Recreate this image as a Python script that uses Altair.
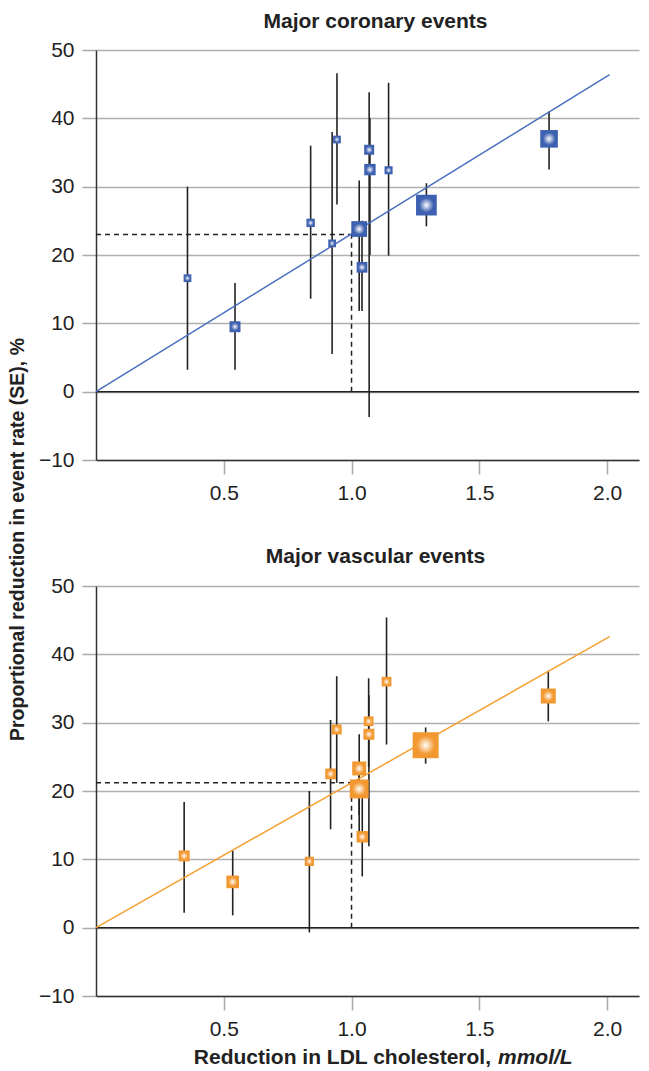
import altair as alt
import pandas as pd

# ---------------- data ----------------
# Major coronary events
cor_ldl = [0.358, 0.544, 0.840, 0.924, 0.943, 1.030, 1.041, 1.069, 1.072, 1.145, 1.293, 1.773]
cor_red = [16.6, 9.5, 24.7, 21.7, 36.9, 23.8, 18.2, 35.4, 32.5, 32.4, 27.3, 37.0]
cor_hi = [30.0, 15.9, 36.0, 38.0, 46.6, 30.9, 25.0, 43.8, 40.0, 45.2, 30.5, 41.0]
cor_lo = [3.2, 3.2, 13.6, 5.5, 27.4, 11.8, 11.8, -3.7, 20.0, 19.9, 24.2, 32.5]
cor_wt = [0.6, 1.2, 0.7, 0.6, 0.6, 2.5, 1.15, 1.0, 1.3, 0.65, 4.3, 3.1]

# Major vascular events
vas_ldl = [0.345, 0.535, 0.835, 0.918, 0.942, 1.030, 1.030, 1.042, 1.067, 1.068, 1.137, 1.290, 1.770]
vas_red = [10.5, 6.7, 9.7, 22.5, 29.0, 23.3, 20.3, 13.3, 30.2, 28.3, 36.0, 26.7, 33.9]
vas_hi = [18.4, 11.3, 20.0, 30.4, 36.8, 28.3, 24.0, 19.0, 36.5, 34.0, 45.4, 29.3, 37.6]
vas_lo = [2.2, 1.8, -0.7, 14.4, 21.2, 13.9, 16.5, 7.5, 23.5, 11.9, 26.8, 24.0, 30.2]
vas_wt = [1.2, 1.6, 0.85, 1.15, 1.0, 1.95, 3.6, 1.3, 0.95, 1.2, 0.95, 6.75, 2.25]

# regression lines through the origin
fit_ldl = [0.0, 2.01]
cor_fit = [0.0, 46.4]
vas_fit = [0.0, 42.6]

# dashed reference at 1 mmol/L
ref_ldl = 1.0
cor_ref = 23.0
vas_ref = 21.2

x_ticks = [0.5, 1.0, 1.5, 2.0]
y_ticks = [-10, 0, 10, 20, 30, 40, 50]

panel_titles = ["Major coronary events", "Major vascular events"]
y_title = "Proportional reduction in event rate (SE), %"
x_title_parts = ["Reduction in LDL cholesterol,", "mmol/L"]

FONT = "Liberation Sans"
W, H = 543, 410


def panel(title, ldl, red, hi, lo, wt, fit_y, ref_y, mcol, lcol, xtitle, toff):
    pts = pd.DataFrame(dict(ldl=ldl, red=red, hi=hi, lo=lo, wt=wt))
    fit = pd.DataFrame(dict(ldl=fit_ldl, red=fit_y))
    xs = alt.Scale(domain=[0, 2.125], nice=False, zero=False)
    ys = alt.Scale(domain=[-10, 50], nice=False)
    xax = alt.Axis(values=x_ticks, format=".1f", grid=False, title=None)
    yax = alt.Axis(values=y_ticks, grid=True, title=None)

    def X(f):
        return alt.X(f, type="quantitative", scale=xs, axis=xax)

    def Y(f):
        return alt.Y(f, type="quantitative", scale=ys, axis=yax)

    zero = alt.Chart(pd.DataFrame({"z": [0.0]})).mark_rule(
        color="#222", strokeWidth=1.5).encode(y=Y("z"))

    hdash = alt.Chart(pd.DataFrame({"a": [0.0], "b": [ref_ldl], "r": [ref_y]})).mark_rule(
        color="#222", strokeWidth=1.5, strokeDash=[5, 4]).encode(x=X("a"), x2="b", y=Y("r"))
    vdash = alt.Chart(pd.DataFrame({"a": [ref_ldl], "r0": [0.0], "r": [ref_y]})).mark_rule(
        color="#222", strokeWidth=1.5, strokeDash=[5, 4]).encode(x=X("a"), y=Y("r0"), y2="r")

    bars = alt.Chart(pts).mark_rule(color="#222", strokeWidth=1.6).encode(
        x=X("ldl"), y=Y("lo"), y2="hi")

    line = alt.Chart(fit).mark_line(color=lcol, strokeWidth=1.5).encode(
        x=X("ldl"), y=Y("red"))

    grad = alt.Gradient(
        gradient="radial",
        stops=[alt.GradientStop(color="#ffffff", offset=0),
               alt.GradientStop(color=mcol, offset=0.7)],
        x1=0.5, y1=0.5, r1=0, x2=0.5, y2=0.5, r2=0.5)
    sq = alt.Chart(pts).mark_square(fill=grad, filled=True, opacity=1, strokeWidth=0).encode(
        x=X("ldl"), y=Y("red"),
        size=alt.Size("wt:Q", scale=alt.Scale(domain=[0, 5], range=[0, 500]), legend=None))

    layers = [zero, hdash, vdash, bars, line, sq]
    if xtitle:
        t1 = alt.Chart(pd.DataFrame({"t": [x_title_parts[0]]})).mark_text(
            align="right", baseline="middle", font=FONT, fontSize=21, fontWeight="bold",
            color="#222").encode(x=alt.value(395), y=alt.value(H + 62), text="t:N")
        t2 = alt.Chart(pd.DataFrame({"t": [x_title_parts[1]]})).mark_text(
            align="left", baseline="middle", font=FONT, fontSize=21, fontWeight="bold",
            fontStyle="italic", color="#222").encode(x=alt.value(402), y=alt.value(H + 62), text="t:N")
        layers += [t1, t2]

    return alt.layer(*layers).properties(
        width=W, height=H,
        title=alt.TitleParams(title, font=FONT, fontSize=21, fontWeight="bold",
                              color="#222", offset=toff, dx=8))


top = panel(panel_titles[0], cor_ldl, cor_red, cor_hi, cor_lo, cor_wt, cor_fit, cor_ref,
            "#3d60b0", "#4a70c0", False, 7)
bottom = panel(panel_titles[1], vas_ldl, vas_red, vas_hi, vas_lo, vas_wt, vas_fit, vas_ref,
               "#f29830", "#f5a033", True, 8)

chart = alt.vconcat(
    top, bottom, spacing=126, bounds="flush",
    title=alt.TitleParams(y_title, orient="left", anchor="middle", font=FONT, fontSize=19.5,
                          fontWeight="bold", color="#222", offset=10),
).properties(
    padding={"left": 7, "top": 11, "right": 8, "bottom": 5}
).configure_view(stroke=None).configure_axis(
    labelFont=FONT, labelFontSize=21, labelColor="#222",
    domainColor="#333", domainWidth=1.5,
    tickColor="#aaa", tickWidth=1.5, tickSize=14,
    gridColor="#b0b0b0", gridWidth=1.5, labelPadding=8,
)

chart.save("out.html", embed_options={"renderer": "svg", "actions": False})
